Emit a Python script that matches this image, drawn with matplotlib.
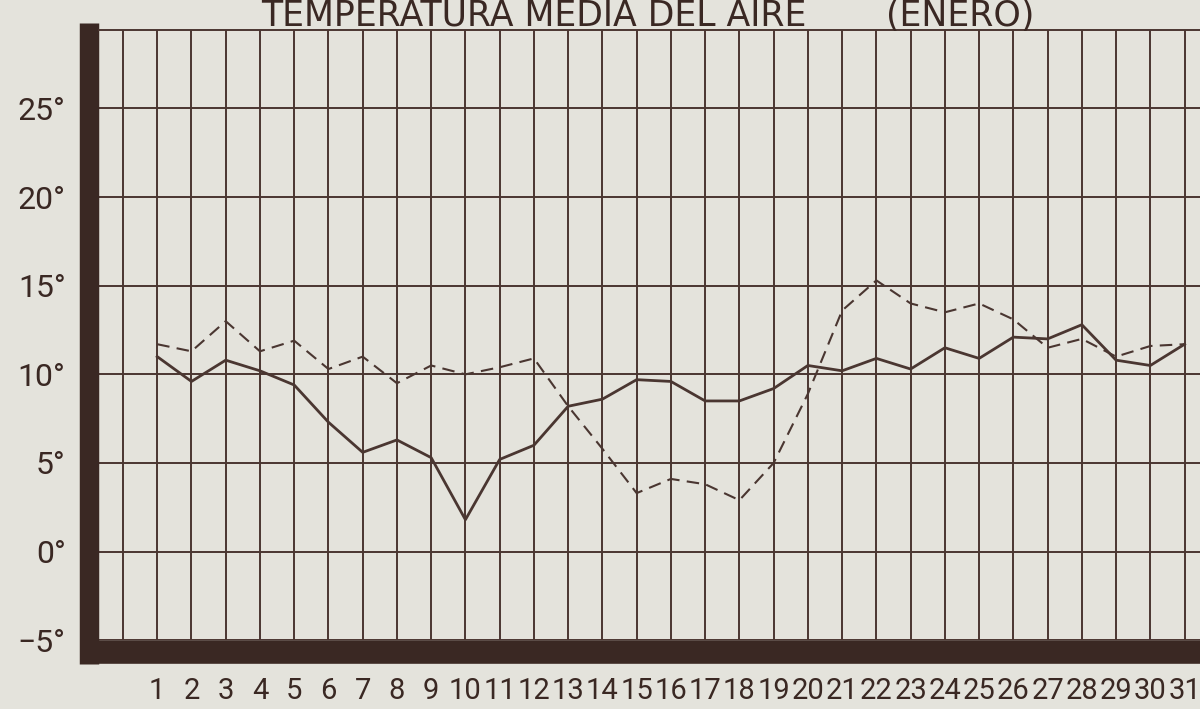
#!/usr/bin/env python

"""Grafico de la temperatura media del aire en enero (reproduccion de un escaneo)"""
import matplotlib
# Removes dependency on graphical system
matplotlib.use('Agg')
import matplotlib.pyplot as plt

plt.rcParams['font.family'] = ['Roboto', 'DejaVu Sans']

# Days of the month
dias = list(range(1, 32))

# Solid line (degrees)
serie_continua = [11.0, 9.6, 10.8, 10.2, 9.4, 7.3, 5.6, 6.3, 5.3, 1.8,
                  5.2, 6.0, 8.2, 8.6, 9.7, 9.6, 8.5, 8.5, 9.2, 10.5,
                  10.2, 10.9, 10.3, 11.5, 10.9, 12.1, 12.0, 12.8, 10.8, 10.5,
                  11.7]

# Dashed line
serie_discontinua = [11.7, 11.3, 13.0, 11.3, 11.9, 10.3, 11.0, 9.5, 10.5, 10.0,
                     10.4, 10.9, 8.2, 5.8, 3.3, 4.1, 3.8, 2.9, 5.0, 8.9,
                     13.6, 15.3, 14.0, 13.5, 14.0, 13.1, 11.5, 12.0, 11.0, 11.6,
                     11.7]

# Axis ticks
y_ticks = [-5, 0, 5, 10, 15, 20, 25]
y_labels = ['\u22125\u00b0', '0\u00b0', '5\u00b0', '10\u00b0', '15\u00b0', '20\u00b0', '25\u00b0']
x_ticks = list(range(0, 32))
x_labels = [''] + [str(d) for d in dias]

titulo = 'TEMPERATURA MEDIA DEL AIRE'
subtitulo = '(ENERO)'

PAPER = '#e4e3dc'
INK = '#4a3631'
BORDER = '#3a2823'

X_MIN, X_MAX = -0.7, 31.45
Y_MIN, Y_MAX = -5, 29.4


def generate_figure():
    fig = plt.figure(figsize=(12, 7.09), dpi=100, facecolor=PAPER)
    ax_rect = [0.0825, 0.097, 0.9175, 0.86]
    ax = fig.add_axes(ax_rect)
    ax.set_facecolor(PAPER)

    # the two series
    ax.plot(dias, serie_continua, color=INK, linewidth=2.0, zorder=3)
    ax.plot(dias, serie_discontinua, color=INK, linewidth=1.5,
            linestyle=(0, (6, 3.5)), zorder=3)

    ax.set_xlim(X_MIN, X_MAX)
    ax.set_ylim(Y_MIN, Y_MAX)

    ax.set_xticks(x_ticks)
    ax.set_xticklabels(x_labels)
    ax.set_yticks(y_ticks)
    ax.set_yticklabels(y_labels)
    ax.tick_params(length=0, colors=BORDER)
    ax.tick_params(axis='x', pad=18, labelsize=21)
    ax.tick_params(axis='y', pad=17, labelsize=23)

    # hand drawn grid
    ax.grid(True, color=INK, linewidth=1.4, zorder=1)
    ax.set_axisbelow(True)

    # thick dark border on left and bottom, stretched so the corner is closed
    ax_w_px = ax_rect[2] * 1200
    ax_h_px = ax_rect[3] * 709
    left_lw, bottom_lw = 14, 17
    left_px = left_lw * 100 / 72
    bottom_px = bottom_lw * 100 / 72
    x_ext = left_px * (X_MAX - X_MIN) / ax_w_px
    y_ext = bottom_px * (Y_MAX - Y_MIN) / ax_h_px
    for side, lw in (('left', left_lw), ('bottom', bottom_lw)):
        sp = ax.spines[side]
        sp.set_linewidth(lw)
        sp.set_color(BORDER)
        sp.set_position(('outward', lw / 2))
        sp.set_capstyle('butt')
    ax.spines['left'].set_bounds(Y_MIN - y_ext, Y_MAX + 0.4)
    ax.spines['bottom'].set_bounds(X_MIN - x_ext, X_MAX)
    ax.spines['top'].set_linewidth(1.4)
    ax.spines['top'].set_color(INK)
    ax.spines['right'].set_visible(False)

    # title above the frame, in two pieces like the original lettering
    fig.text(0.445, 0.964, titulo, ha='center', va='baseline',
             fontsize=25, color=BORDER, family=['DejaVu Sans'])
    fig.text(0.80, 0.964, subtitulo, ha='center', va='baseline',
             fontsize=25, color=BORDER, family=['DejaVu Sans'])

    return fig


def main():
    figure = generate_figure()
    figure.savefig('out.png', dpi=100, facecolor=PAPER)


if __name__ == "__main__":
    main()
